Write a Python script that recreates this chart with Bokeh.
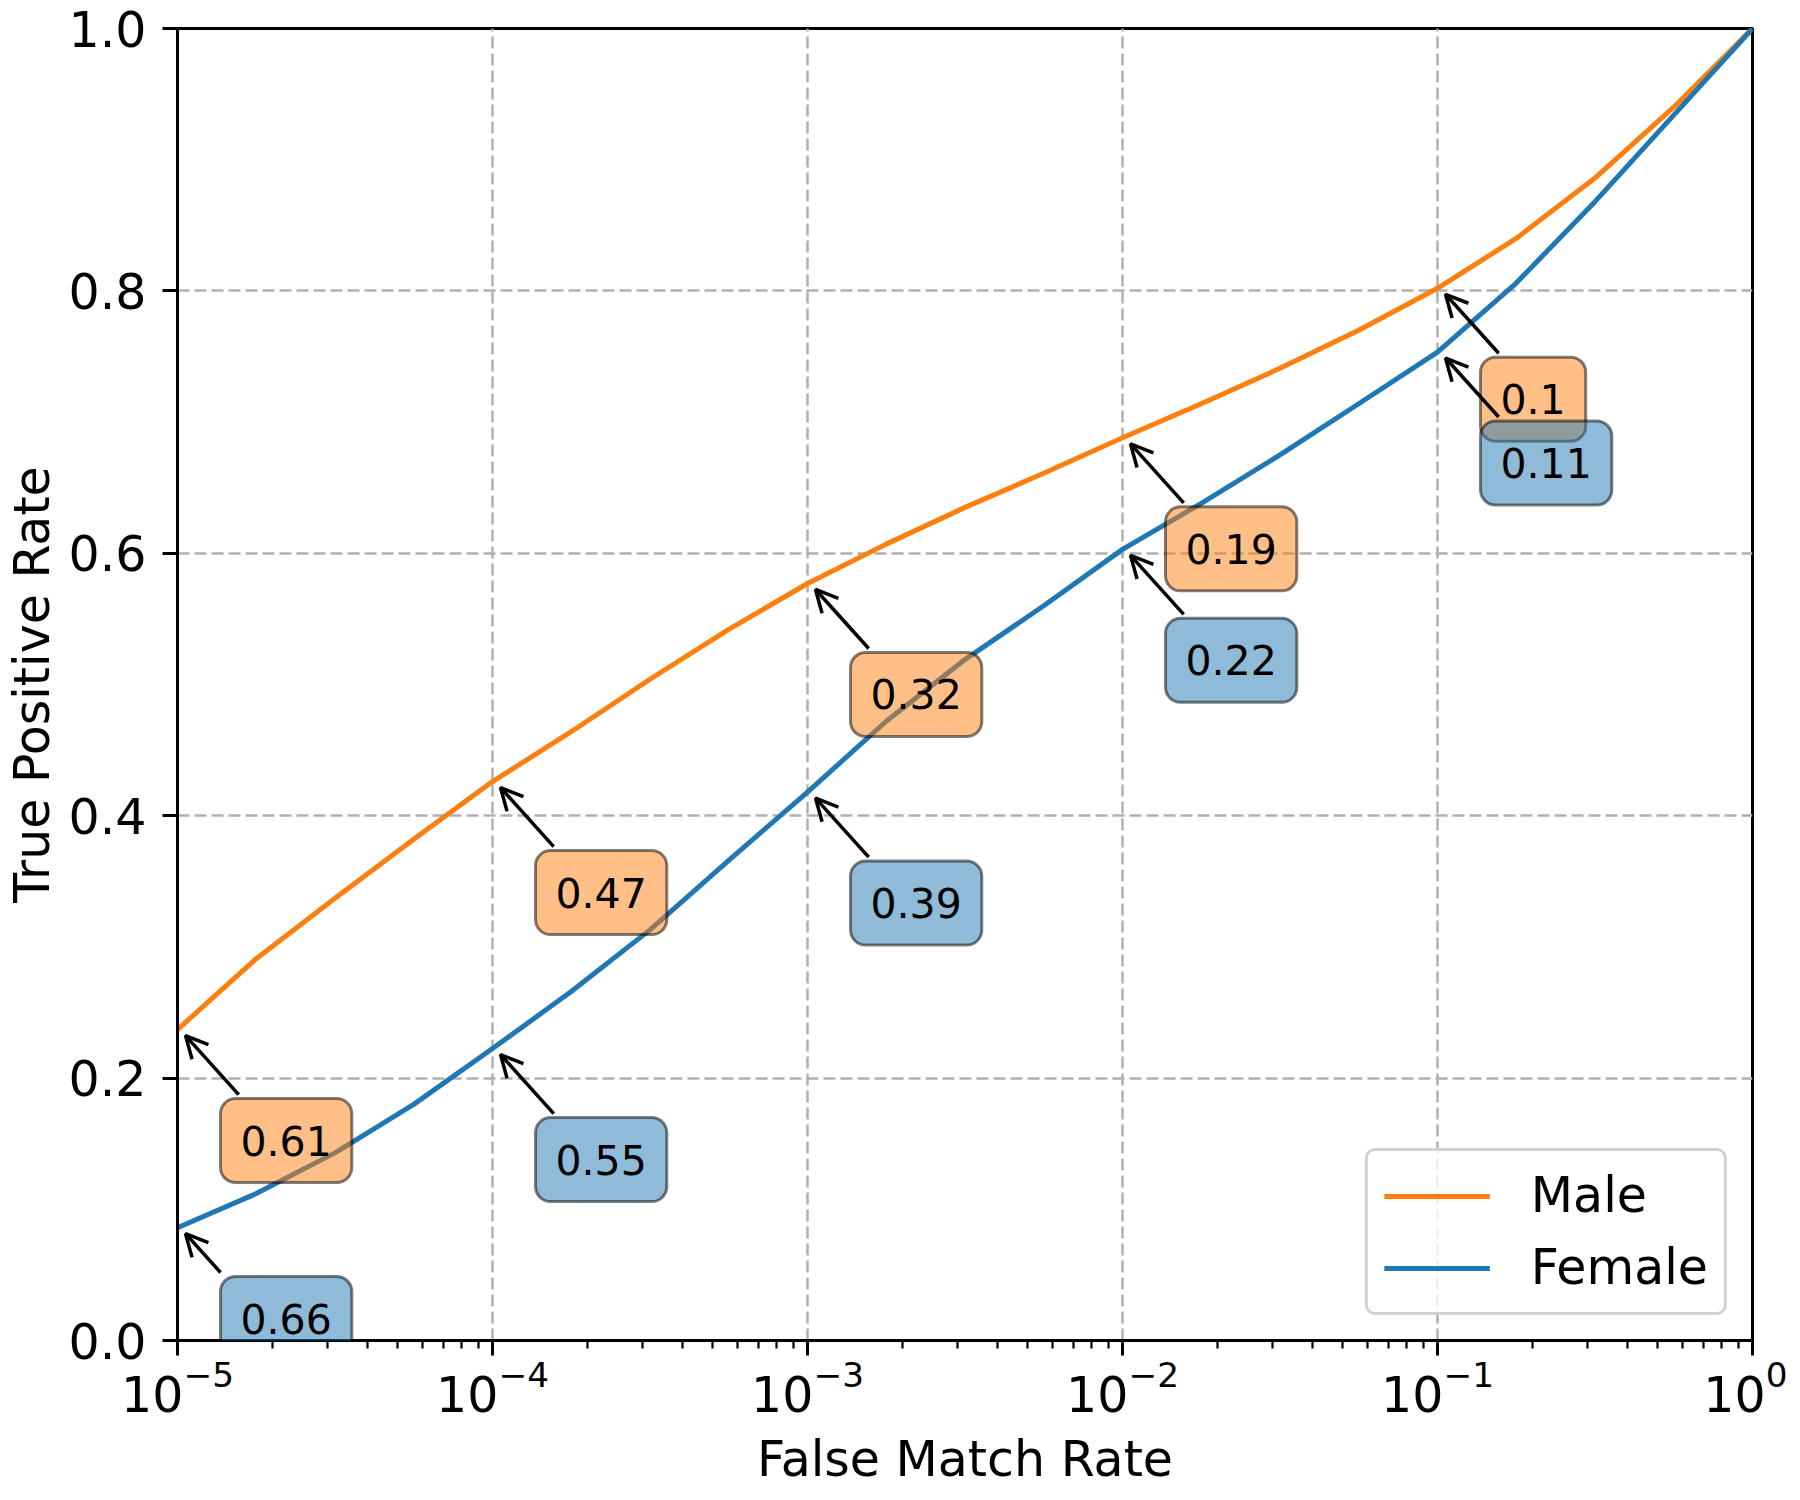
from bokeh.plotting import figure
from bokeh.models import (Range1d, FixedTicker, PrintfTickFormatter, Label, Arrow,
                          OpenHead, Legend, LegendItem)
from bokeh.embed import file_html
from bokeh.resources import INLINE

# ---------------- data ----------------
fmr = [1e-5, 1.778e-5, 3.162e-5, 5.623e-5,
       1e-4, 1.778e-4, 3.162e-4, 5.623e-4,
       1e-3, 1.778e-3, 3.162e-3, 5.623e-3,
       1e-2, 1.778e-2, 3.162e-2, 5.623e-2,
       1e-1, 1.778e-1, 3.162e-1, 5.623e-1,
       1.0]
tpr_male = [0.237, 0.291, 0.337, 0.382,
            0.426, 0.464, 0.504, 0.542,
            0.577, 0.607, 0.635, 0.661,
            0.688, 0.714, 0.741, 0.770,
            0.802, 0.840, 0.886, 0.940,
            1.000]
tpr_female = [0.086, 0.112, 0.143, 0.180,
              0.2225, 0.266, 0.313, 0.366,
              0.418, 0.472, 0.519, 0.560,
              0.603, 0.638, 0.675, 0.714,
              0.7534, 0.806, 0.868, 0.934,
              1.000]

annot_fmr = [1e-5, 1e-4, 1e-3, 1e-2, 1e-1]
thr_male = ["0.61", "0.47", "0.32", "0.19", "0.1"]
thr_female = ["0.66", "0.55", "0.39", "0.22", "0.11"]

series_names = ["Male", "Female"]
y_ticks = [0.0, 0.2, 0.4, 0.6, 0.8, 1.0]
x_ticks = [1e-5, 1e-4, 1e-3, 1e-2, 1e-1, 1.0]

# ---------------- style ----------------
ORANGE = "#ff7f0e"
BLUE = "#1f77b4"
FONT = "DejaVu Sans"
FRAME_W, FRAME_H = 1575, 1312

p = figure(x_axis_type="log",
           x_range=Range1d(1e-5, 1.0), y_range=Range1d(0.0, 1.0),
           frame_width=FRAME_W, frame_height=FRAME_H,
           min_border_left=174, min_border_right=35,
           min_border_top=28, min_border_bottom=152,
           output_backend="svg", toolbar_location=None,
           background_fill_color="white", border_fill_color="white")

p.outline_line_color = "black"
p.outline_line_width = 3
p.outline_line_alpha = 1.0

# grid
for g in (p.xgrid, p.ygrid):
    g.grid_line_color = "#b0b0b0"
    g.grid_line_width = 2.5
    g.grid_line_dash = "12 5"
p.xgrid.ticker = FixedTicker(ticks=x_ticks)
p.ygrid.ticker = FixedTicker(ticks=y_ticks)

# axes
minor = [m * d for d in x_ticks[:-1] for m in range(2, 10)]
p.xaxis.ticker = FixedTicker(ticks=x_ticks, minor_ticks=minor)
p.yaxis.ticker = FixedTicker(ticks=y_ticks)
p.yaxis.formatter = PrintfTickFormatter(format="%.1f")

for ax in (p.xaxis, p.yaxis):
    ax.axis_line_width = 3
    ax.axis_line_color = "black"
    ax.major_tick_line_width = 3
    ax.major_tick_line_color = "black"
    ax.major_tick_out = 15
    ax.major_tick_in = 0
    ax.minor_tick_line_width = 2.2
    ax.minor_tick_line_color = "black"
    ax.minor_tick_out = 8
    ax.minor_tick_in = 0
    ax.major_label_text_font = FONT
    ax.major_label_text_font_size = "49px"
    ax.major_label_text_color = "black"
    ax.axis_label_text_font = FONT
    ax.axis_label_text_font_size = "49px"
    ax.axis_label_text_font_style = "normal"
    ax.axis_label_text_color = "black"
p.yaxis.minor_tick_line_color = None

p.xaxis.axis_label = "False Match Rate"
p.yaxis.axis_label = "True Positive Rate"
p.xaxis.major_label_standoff = 4
p.xaxis.axis_label_standoff = 16
p.yaxis.major_label_standoff = 16
p.yaxis.axis_label_standoff = 5

# curves
r_male = p.line(fmr, tpr_male, line_color=ORANGE, line_width=5,
                line_join="round")
r_female = p.line(fmr, tpr_female, line_color=BLUE, line_width=5,
                  line_join="round")

# annotations (offsets in screen pixels from the annotated point)
px_per_decade = FRAME_W / 5.0
px_per_unit = FRAME_H / 1.0
TAIL_DX, TAIL_DY = 63, 67        # arrow tail (right, down)
TIP_DX, TIP_DY = 8, 6            # arrow tip  (right, down)
BOX_DX, BOX_DY = 43, 111         # box left edge / box centre below point
BOX_HALF_H, TEXT_HALF = 42, 22

male_lookup = dict(zip(fmr, tpr_male))
female_lookup = dict(zip(fmr, tpr_female))

for lookup, labels, color in ((male_lookup, thr_male, ORANGE),
                              (female_lookup, thr_female, BLUE)):
    for xv, txt in zip(annot_fmr, labels):
        yv = lookup[xv]
        above_axis = yv * px_per_unit          # px between point and x axis
        # annotations are clipped to the frame: keep the text itself inside
        box_dy = min(BOX_DY, above_axis - TEXT_HALF)
        tail_dy = min(TAIL_DY, box_dy - BOX_HALF_H - 4)
        tail_dx = TIP_DX + (TAIL_DX - TIP_DX) * (tail_dy - TIP_DY) / (TAIL_DY - TIP_DY)
        lab = Label(x=xv, y=yv, text=txt, x_offset=BOX_DX, y_offset=-box_dy,
                    text_align="left", text_baseline="middle",
                    text_font=FONT, text_font_size="41px", text_color="black",
                    background_fill_color=color, background_fill_alpha=0.5,
                    border_line_color="black", border_line_alpha=0.5,
                    border_line_width=3,
                    padding=dict(left=20, right=20, top=27, bottom=27),
                    border_radius=15, level="overlay")
        p.add_layout(lab)
        arr = Arrow(end=OpenHead(size=22, line_width=3.5, line_color="black"),
                    x_start=xv * 10 ** (tail_dx / px_per_decade),
                    y_start=yv - tail_dy / px_per_unit,
                    x_end=xv * 10 ** (TIP_DX / px_per_decade),
                    y_end=yv - TIP_DY / px_per_unit,
                    line_width=3.5, line_color="black", level="overlay")
        p.add_layout(arr)

# legend
legend = Legend(items=[LegendItem(label=series_names[0], renderers=[r_male]),
                       LegendItem(label=series_names[1], renderers=[r_female])],
                location="bottom_right",
                label_text_font=FONT, label_text_font_size="49px",
                label_text_color="black",
                glyph_width=106, glyph_height=40, label_standoff=41,
                spacing=15, padding=16, margin=25,
                border_line_color="#cccccc", border_line_width=3,
                border_line_alpha=0.9,
                background_fill_color="white", background_fill_alpha=0.8)
if "border_radius" in Legend.properties():
    legend.border_radius = 10
p.add_layout(legend)

open("out.html", "w").write(file_html(p, INLINE))
